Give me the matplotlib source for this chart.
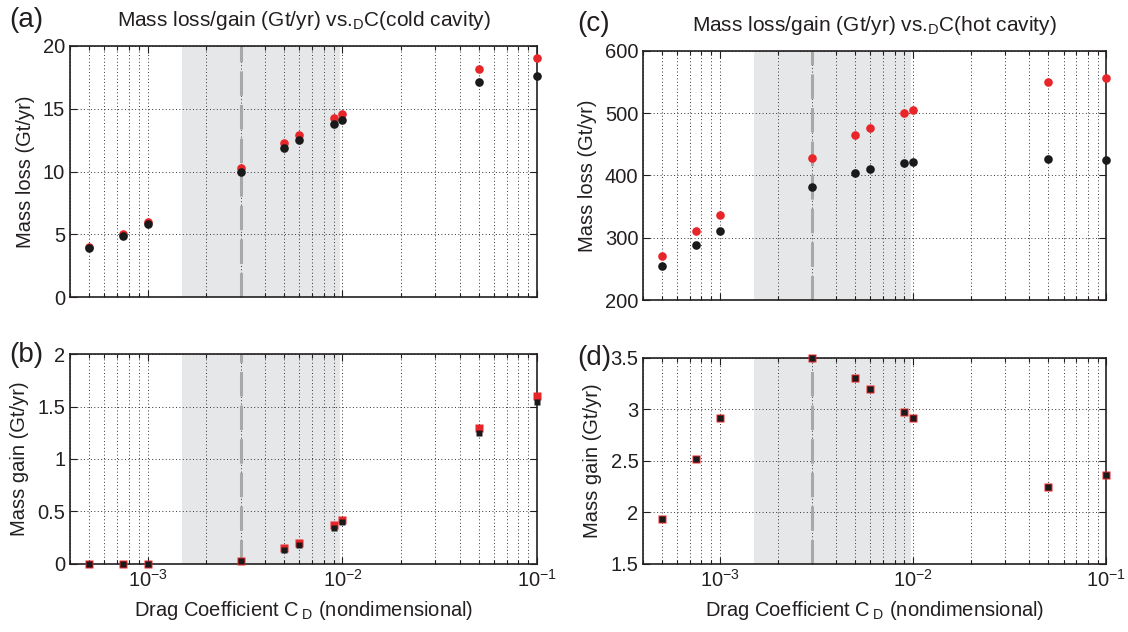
import matplotlib
matplotlib.use('Agg')
import matplotlib.pyplot as plt
from matplotlib.ticker import FixedLocator, LogLocator, NullFormatter

plt.rcParams['font.family'] = ['Liberation Sans', 'DejaVu Sans']
plt.rcParams['mathtext.fontset'] = 'custom'
plt.rcParams['mathtext.rm'] = 'Liberation Sans'

# drag coefficients used in the runs
cd = [5e-4, 7.5e-4, 1e-3, 3e-3, 5e-3, 6e-3, 9e-3, 1e-2, 5e-2, 1e-1]

# (a) cold cavity mass loss
cold_loss_red = [4.0, 5.0, 5.95, 10.3, 12.3, 12.9, 14.25, 14.55, 18.15, 19.0]
cold_loss_black = [3.9, 4.9, 5.8, 10.0, 11.9, 12.5, 13.8, 14.1, 17.1, 17.6]

# (b) cold cavity mass gain
cold_gain_red = [0.0, 0.0, 0.0, 0.03, 0.15, 0.2, 0.37, 0.42, 1.30, 1.60]
cold_gain_black = [0.0, 0.0, 0.0, 0.03, 0.13, 0.18, 0.345, 0.395, 1.25, 1.54]

# (c) hot cavity mass loss
hot_loss_red = [271, 310, 336, 428, 464, 476, 500, 505, 549, 556]
hot_loss_black = [255, 288, 311, 381, 403, 410, 420, 422, 427, 424]

# (d) hot cavity mass gain
hot_gain_red = [1.93, 2.52, 2.91, 3.5, 3.3, 3.2, 2.97, 2.91, 2.24, 2.36]
hot_gain_black = [1.93, 2.52, 2.91, 3.5, 3.3, 3.2, 2.97, 2.91, 2.24, 2.36]

shade_lo, shade_hi = 1.5e-3, 9.7e-3
cd_ref = 3e-3

txt = '#231f20'
red = '#e8262a'
blk = '#1a1a1a'

fig = plt.figure(figsize=(11.28, 6.32), dpi=100)
ax_a = fig.add_axes([0.0621, 0.5296, 0.4143, 0.398])
ax_b = fig.add_axes([0.0621, 0.1081, 0.4143, 0.3313])
ax_c = fig.add_axes([0.5703, 0.5253, 0.4105, 0.3945])
ax_d = fig.add_axes([0.5703, 0.1081, 0.4105, 0.326])


def style(ax, yticks, ylabel, bottom):
    ax.set_xscale('log')
    ax.set_xlim(4e-4, 1e-1)
    ax.set_ylim(yticks[0], yticks[-1])
    ax.yaxis.set_major_locator(FixedLocator(yticks))
    ax.xaxis.set_major_locator(LogLocator(base=10, numticks=10))
    ax.xaxis.set_minor_locator(LogLocator(base=10, subs=range(2, 10), numticks=20))
    ax.xaxis.set_minor_formatter(NullFormatter())
    ax.axvspan(shade_lo, shade_hi, color='#e6e7e8', lw=0, zorder=0.1)
    ax.axvline(cd_ref, color='#a8a8a8', lw=2.2, dashes=(8, 3), zorder=0.7)
    ax.set_axisbelow(True)
    ax.grid(True, which='both', axis='x', ls=(0, (1, 2.5)), color='#333333', lw=0.7)
    ax.grid(True, which='major', axis='y', ls=(0, (1, 2.5)), color='#333333', lw=0.7)
    ax.tick_params(which='both', direction='in', top=True, right=True,
                   labelsize=14.5, colors=txt, width=0.8)
    ax.tick_params(which='major', length=5)
    ax.tick_params(which='minor', length=3)
    ax.set_ylabel(ylabel, fontsize=14.5, color=txt, labelpad=6)
    for s in ax.spines.values():
        s.set_linewidth(1.2)
        s.set_color(txt)
    if bottom:
        ax.set_xlabel(r'Drag Coefficient C$\,_{\mathrm{D}}$ (nondimensional)',
                      fontsize=14.5, color=txt, labelpad=6)
    else:
        ax.tick_params(axis='x', which='both', labelbottom=False)


style(ax_a, [0, 5, 10, 15, 20], 'Mass loss (Gt/yr)', False)
style(ax_b, [0, 0.5, 1, 1.5, 2], 'Mass gain (Gt/yr)', True)
style(ax_c, [200, 300, 400, 500, 600], 'Mass loss (Gt/yr)', False)
style(ax_d, [1.5, 2, 2.5, 3, 3.5], 'Mass gain (Gt/yr)', True)

ax_b.set_yticklabels(['0', '0.5', '1', '1.5', '2'])
ax_d.set_yticklabels(['1.5', '2', '2.5', '3', '3.5'])

for ax, r, b in [(ax_a, cold_loss_red, cold_loss_black), (ax_c, hot_loss_red, hot_loss_black)]:
    ax.plot(cd, r, 'o', color=red, ms=6.2, mec='none', zorder=3, clip_on=False)
    ax.plot(cd, b, 'o', color=blk, ms=6.2, mec='none', zorder=4, clip_on=False)

for ax, r, b in [(ax_b, cold_gain_red, cold_gain_black), (ax_d, hot_gain_red, hot_gain_black)]:
    ax.plot(cd, r, 's', color=red, ms=5.3, mec='none', zorder=3, clip_on=False)
    ax.plot(cd, b, 's', color=blk, ms=5.0, mec='none', zorder=4, clip_on=False)

ax_a.set_title(r'Mass loss/gain (Gt/yr) vs.$_{\mathrm{D}}$C(cold cavity)',
               fontsize=15, color=txt, pad=14)
ax_c.set_title(r'Mass loss/gain (Gt/yr) vs.$_{\mathrm{D}}$C(hot cavity)',
               fontsize=15, color=txt, pad=14)

fig.text(0.008, 0.968, '(a)', fontsize=20, color=txt, va='center')
fig.text(0.008, 0.438, '(b)', fontsize=20, color=txt, va='center')
fig.text(0.512, 0.962, '(c)', fontsize=20, color=txt, va='center')
fig.text(0.512, 0.434, '(d)', fontsize=20, color=txt, va='center')

fig.savefig('out.png', dpi=100)
